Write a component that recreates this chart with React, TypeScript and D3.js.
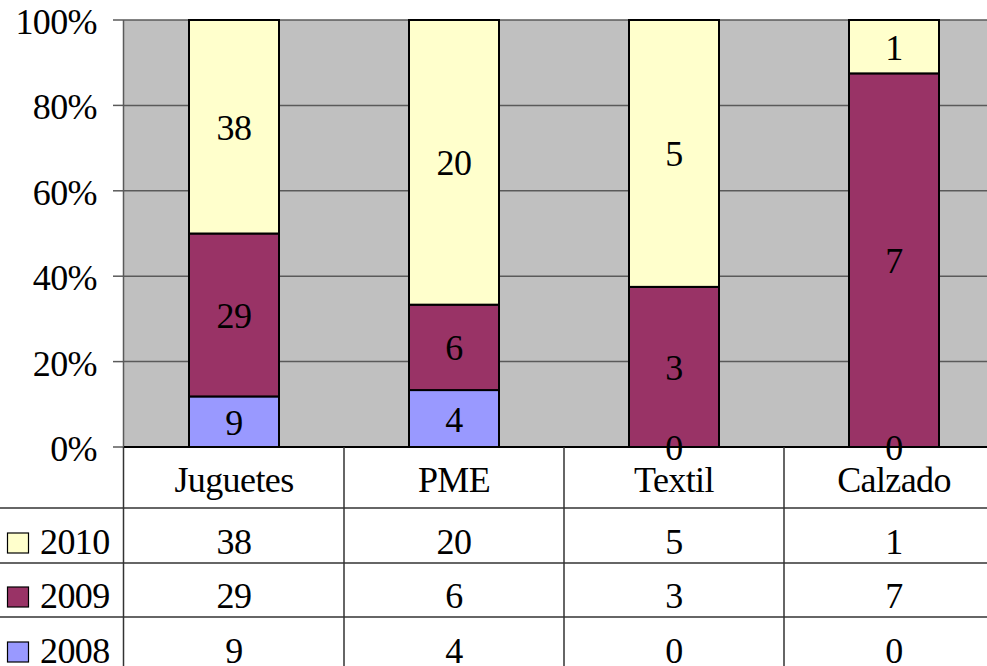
import React from "react";
import * as d3 from "d3";

const categories = ["Juguetes", "PME", "Textil", "Calzado"];
const seriesNames = ["2008", "2009", "2010"];
const values2008 = [9, 4, 0, 0];
const values2009 = [29, 6, 3, 7];
const values2010 = [38, 20, 5, 1];
const seriesColors = ["#9999ff", "#993366", "#ffffcc"];
const yTicks = [0, 0.2, 0.4, 0.6, 0.8, 1];

const W = 987;
const H = 666;
const plotLeft = 124;
const plotTop = 20;
const plotBottom = 447;
const plotRight = 1004;
const rowLines = [508, 563, 617];
const rowBaselines = [554, 608, 663];
const FONT = '"Liberation Serif"';
const FS = 36;
const LS = -0.6;
const txt = { fontFamily: FONT, fontSize: FS, letterSpacing: LS } as React.CSSProperties;

export default function App() {
  const seriesValues = [values2008, values2009, values2010];
  const rows = categories.map((c, i) => {
    const o: any = { cat: c };
    seriesNames.forEach((s, j) => (o[s] = seriesValues[j][i]));
    return o;
  });
  const stacked = d3.stack<any>().keys(seriesNames).offset(d3.stackOffsetExpand)(rows);
  const x = d3.scaleBand<string>().domain(categories).range([plotLeft, plotRight]).padding(0);
  const y = d3.scaleLinear().domain([0, 1]).range([plotBottom, plotTop]);
  const barW = (x.bandwidth() * 90) / 220;

  const tableOrder = [2, 1, 0];

  return (
    <svg width={W} height={H} style={{ position: "absolute", left: 0, top: 0, background: "#fff" }}>
      <rect x={plotLeft} y={plotTop} width={plotRight - plotLeft} height={plotBottom - plotTop} fill="#c0c0c0" />
      {yTicks.map((t) => (
        <g key={t}>
          <line x1={plotLeft} x2={plotRight} y1={y(t)} y2={y(t)} stroke="#5a5a5a" strokeWidth={1.5} />
          <line x1={113} x2={plotLeft} y1={y(t)} y2={y(t)} stroke="#5a5a5a" strokeWidth={1.5} />
          <text x={97} y={y(t) + 14} textAnchor="end" style={txt}>
            {Math.round(t * 100)}%
          </text>
        </g>
      ))}
      <line x1={plotLeft - 0.5} x2={plotLeft - 0.5} y1={plotTop} y2={plotBottom} stroke="#5a5a5a" strokeWidth={1.5} />
      {stacked.map((s, j) => (
        <g key={s.key}>
          {s.map((d, i) => {
            const cx = (x(categories[i]) as number) + x.bandwidth() / 2;
            const y0 = y(d[0]);
            const y1 = y(d[1]);
            return (
              <g key={i}>
                {y0 - y1 > 0 && (
                  <rect
                    x={cx - barW / 2}
                    y={y1}
                    width={barW}
                    height={y0 - y1}
                    fill={seriesColors[j]}
                    stroke="#000"
                    strokeWidth={2}
                  />
                )}
              </g>
            );
          })}
        </g>
      ))}
      <line x1={plotLeft} x2={plotRight} y1={plotBottom} y2={plotBottom} stroke="#000" strokeWidth={2} />
      {stacked.map((s, j) => (
        <g key={"l" + s.key}>
          {s.map((d, i) => {
            const cx = (x(categories[i]) as number) + x.bandwidth() / 2;
            const mid = (y(d[0]) + y(d[1])) / 2;
            return (
              <text key={i} x={cx} y={mid + 13} textAnchor="middle" style={txt}>
                {seriesValues[j][i]}
              </text>
            );
          })}
        </g>
      ))}
      {rowLines.map((ly) => (
        <line key={ly} x1={0} x2={W} y1={ly} y2={ly} stroke="#333" strokeWidth={1.5} />
      ))}
      {[plotLeft - 0.5, ...categories.slice(1).map((c) => x(c) as number)].map((lx, i) => (
        <line key={i} x1={lx} x2={lx} y1={plotBottom} y2={H} stroke="#333" strokeWidth={1.5} />
      ))}
      {categories.map((c) => (
        <text key={c} x={(x(c) as number) + x.bandwidth() / 2} y={492} textAnchor="middle" style={txt}>
          {c}
        </text>
      ))}
      {tableOrder.map((j, r) => (
        <g key={"row" + j}>
          <rect x={7.5} y={rowBaselines[r] - 21} width={21} height={20} fill={seriesColors[j]} stroke="#000" strokeWidth={1.2} />
          <text x={40} y={rowBaselines[r]} style={txt}>
            {seriesNames[j]}
          </text>
          {categories.map((c, i) => (
            <text key={c} x={(x(c) as number) + x.bandwidth() / 2} y={rowBaselines[r]} textAnchor="middle" style={txt}>
              {seriesValues[j][i]}
            </text>
          ))}
        </g>
      ))}
    </svg>
  );
}
